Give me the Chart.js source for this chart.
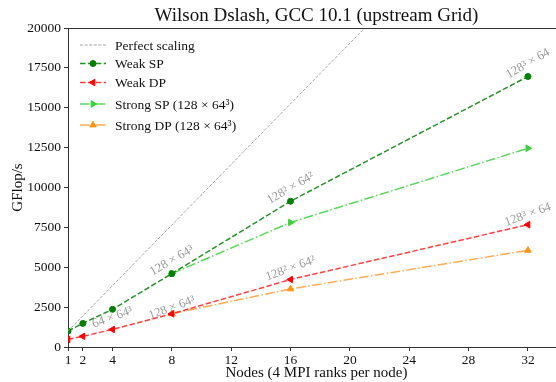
<!DOCTYPE html>
<html>
<head>
<meta charset="utf-8">
<script src="https://cdn.jsdelivr.net/npm/chart.js@4.4.0/dist/chart.umd.min.js"></script>
<style>
html,body{margin:0;padding:0;background:#fff;overflow:hidden;}
#wrap{width:570px;height:382px;}
</style>
</head>
<body>
<div id="wrap"><canvas id="c" width="570" height="382"></canvas></div>
<script>
// ---- data ----
const weakNodes = [1, 2, 4, 8, 16, 32];
const weakSP = [1000, 1480, 2360, 4600, 9140, 16960];
const weakDP = [480, 670, 1100, 2080, 4230, 7670];
const strongNodes = [8, 16, 32];
const strongSP = [4600, 7810, 12460];
const strongDP = [2080, 3640, 6060];
const perfectNodes = [1, 32];
const perfect = [1000, 30450];
const xTicks = [1, 2, 4, 8, 12, 16, 20, 24, 28, 32];
const yTicks = [0, 2500, 5000, 7500, 10000, 12500, 15000, 17500, 20000];
const seriesNames = ['Perfect scaling', 'Weak SP', 'Weak DP', 'Strong SP (128 × 64³)', 'Strong DP (128 × 64³)'];
const annLabels = ['64 × 64³', '128 × 64³', '128² × 64²', '128³ × 64', '128 × 64³', '128² × 64²', '128³ × 64'];
const annNodes = [4, 8, 16, 32, 8, 16, 32];
const annValues = [weakDP[2], weakDP[3], weakDP[4], weakDP[5], weakSP[3], weakSP[4], weakSP[5]];
const annGroup = ['DP', 'DP', 'DP', 'DP', 'SP', 'SP', 'SP'];

const SERIF = '"Liberation Serif", "DejaVu Serif", serif';
const pts = (xs, ys) => xs.map((x, i) => ({x: x, y: ys[i]}));

const styles = [
  {line: '#9a9a9a', marker: null, dash: [3, 1.6], width: 0.9},
  {line: 'rgba(0,128,0,0.85)', marker: '#008000', dash: [5.5, 2.4], width: 1.5, style: 'circle', rot: 0, r: 3},
  {line: 'rgba(255,0,0,0.75)', marker: '#ff0000', dash: [5.5, 2.4], width: 1.5, style: 'triangle', rot: -90, r: 3.8},
  {line: 'rgba(50,205,50,0.8)', marker: '#3ccf3c', dash: [9.6, 2.4, 1.5, 2.4], width: 1.5, style: 'triangle', rot: 90, r: 3.8},
  {line: 'rgba(255,150,40,0.8)', marker: '#ff9414', dash: [9.6, 2.4, 1.5, 2.4], width: 1.5, style: 'triangle', rot: 0, r: 3.8}
];
const seriesData = [pts(perfectNodes, perfect), pts(weakNodes, weakSP), pts(weakNodes, weakDP), pts(strongNodes, strongSP), pts(strongNodes, strongDP)];

const datasets = seriesNames.map((n, i) => ({
  label: n,
  data: seriesData[i],
  borderColor: styles[i].line,
  backgroundColor: styles[i].marker || styles[i].line,
  borderWidth: styles[i].width,
  borderDash: styles[i].dash,
  pointRadius: styles[i].marker ? styles[i].r : 0,
  pointStyle: styles[i].style || 'circle',
  pointRotation: styles[i].rot || 0,
  pointBackgroundColor: styles[i].marker,
  pointBorderColor: styles[i].marker,
  pointBorderWidth: 1,
  tension: 0,
  fill: false
}));

function drawMarker(ctx, s, x, y) {
  ctx.save();
  ctx.fillStyle = s.marker;
  ctx.strokeStyle = s.marker;
  ctx.setLineDash([]);
  ctx.lineWidth = 1;
  ctx.translate(x, y);
  ctx.rotate(s.rot * Math.PI / 180);
  ctx.beginPath();
  if (s.style === 'circle') {
    ctx.arc(0, 0, s.r, 0, Math.PI * 2);
  } else {
    const r = s.r;
    ctx.moveTo(0, -r);
    ctx.lineTo(r * 0.866, r * 0.5);
    ctx.lineTo(-r * 0.866, r * 0.5);
    ctx.closePath();
  }
  ctx.fill();
  ctx.stroke();
  ctx.restore();
}

const decor = {
  id: 'decor',
  afterDraw(chart) {
    const ctx = chart.ctx;
    const a = chart.chartArea;
    const xs = chart.scales.x, ys = chart.scales.y;
    ctx.save();
    // top spine
    ctx.strokeStyle = '#333';
    ctx.lineWidth = 1;
    ctx.beginPath();
    ctx.moveTo(a.left, a.top + 0.5);
    ctx.lineTo(a.right, a.top + 0.5);
    ctx.stroke();
    // title
    const cx = (a.left + a.right) / 2;
    ctx.fillStyle = '#111';
    ctx.font = '19px ' + SERIF;
    ctx.textAlign = 'center';
    ctx.textBaseline = 'alphabetic';
    ctx.fillText('Wilson Dslash, GCC 10.1 (upstream Grid)', cx, 21);
    // x label
    ctx.font = '15px ' + SERIF;
    ctx.fillText('Nodes (4 MPI ranks per node)', cx, 377);
    // y label
    ctx.save();
    ctx.translate(22, (a.top + a.bottom) / 2);
    ctx.rotate(-Math.PI / 2);
    ctx.fillText('GFlop/s', 0, 0);
    ctx.restore();
    // annotations
    ctx.fillStyle = '#999';
    ctx.font = '12.5px ' + SERIF;
    ctx.textAlign = 'center';
    ctx.textBaseline = 'middle';
    const dyFor = [-12, -6, -11, -10, -13, -13, -13];
    annLabels.forEach((t, i) => {
      const px = xs.getPixelForValue(annNodes[i]);
      const py = ys.getPixelForValue(annValues[i]);
      const rot = annGroup[i] === 'SP' ? -30 : -20;
      ctx.save();
      ctx.translate(px, py + dyFor[i]);
      ctx.rotate(rot * Math.PI / 180);
      ctx.fillText(t, 0, 0);
      ctx.restore();
    });
    // legend
    const rowY = [45, 63.5, 82.5, 104, 125];
    ctx.font = '13.5px ' + SERIF;
    ctx.textAlign = 'left';
    ctx.textBaseline = 'middle';
    seriesNames.forEach((n, i) => {
      const s = styles[i];
      const y = rowY[i];
      ctx.save();
      ctx.strokeStyle = s.line;
      ctx.lineWidth = s.width;
      ctx.setLineDash(s.dash);
      ctx.beginPath();
      ctx.moveTo(80, y);
      ctx.lineTo(106, y);
      ctx.stroke();
      ctx.restore();
      if (s.marker) drawMarker(ctx, s, 93, y);
      ctx.fillStyle = '#111';
      ctx.fillText(n, 115, y + 1);
    });
    ctx.restore();
  }
};

new Chart(document.getElementById('c'), {
  type: 'line',
  data: {datasets: datasets},
  options: {
    responsive: false,
    animation: false,
    layout: {padding: {top: 28, right: 5, left: 0, bottom: 0}},
    plugins: {legend: {display: false}, title: {display: false}, tooltip: {enabled: false}},
    scales: {
      x: {
        type: 'linear',
        min: 1,
        max: 34.5,
        afterBuildTicks: s => { s.ticks = xTicks.map(v => ({value: v})); },
        afterFit: s => { s.height = 35; },
        grid: {drawOnChartArea: false, drawTicks: true, tickLength: 4, color: '#333'},
        border: {display: true, color: '#333', width: 1},
        ticks: {font: {family: SERIF, size: 13.5}, color: '#111', padding: 1, maxRotation: 0, autoSkip: false, callback: v => String(v)}
      },
      y: {
        type: 'linear',
        min: 0,
        max: 20000,
        afterBuildTicks: s => { s.ticks = yTicks.map(v => ({value: v})); },
        afterFit: s => { s.width = 68; },
        grid: {drawOnChartArea: false, drawTicks: true, tickLength: 4, color: '#333'},
        border: {display: true, color: '#333', width: 1},
        ticks: {font: {family: SERIF, size: 13.5}, color: '#111', padding: 3, autoSkip: false, callback: v => String(v)}
      }
    }
  },
  plugins: [decor]
});
</script>
</body>
</html>
